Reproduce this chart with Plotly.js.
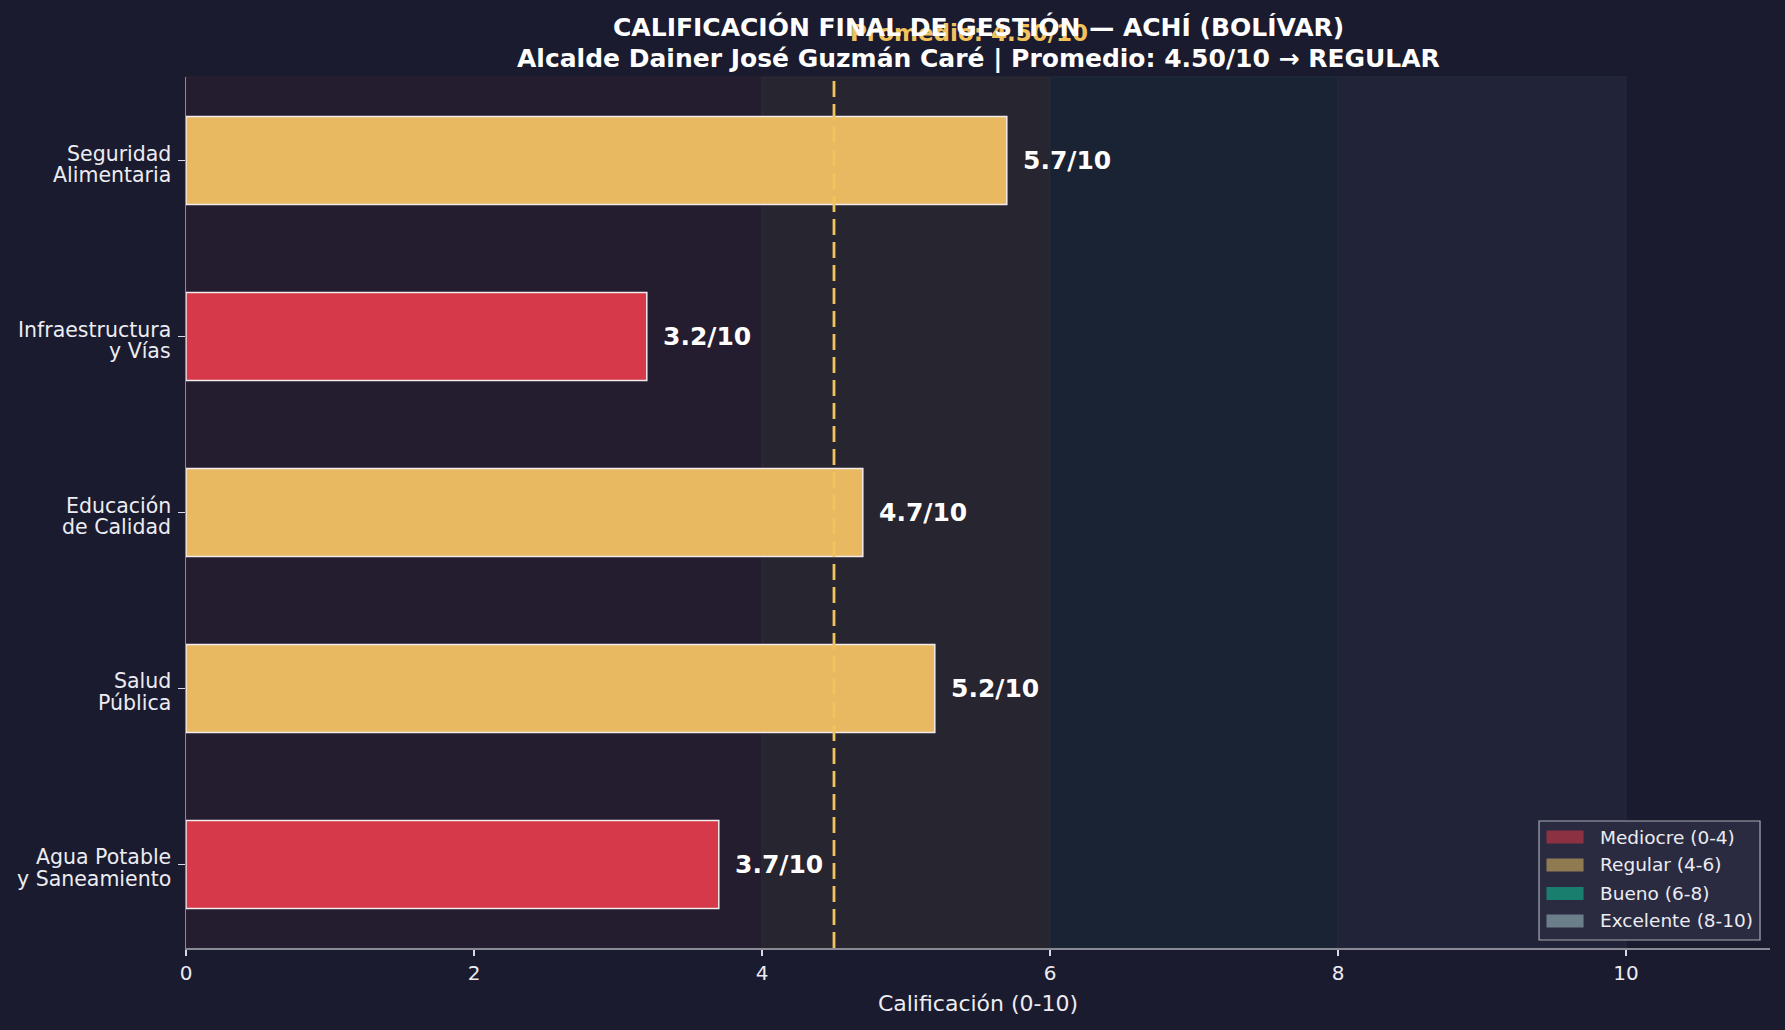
<!DOCTYPE html>
<html>
<head>
<meta charset="utf-8">
<script src="https://cdn.plot.ly/plotly-3.0.1.min.js"></script>
<style>html,body{margin:0;padding:0;background:#1a1b2e;}#chart{width:1785px;height:1030px;}</style>
</head>
<body>
<div id="chart"></div>
<script>
// ---- data ----
const categories = ["Seguridad<br>Alimentaria", "Infraestructura<br>y Vías", "Educación<br>de Calidad", "Salud<br>Pública", "Agua Potable<br>y Saneamiento"];
const scores = [5.7, 3.2, 4.7, 5.2, 3.7];
const average = 4.50;
const bandStarts = [0, 4, 6, 8];
const bandEnds = [4, 6, 8, 10];
const bandNames = ["Mediocre (0-4)", "Regular (4-6)", "Bueno (6-8)", "Excelente (8-10)"];
const bandFill = ["#241c2f", "#262530", "#192334", "#212438"];
const bandEdge = ["#2c2431", "#2d2c33", "#1e2e38", "#262a3e"];
const legendSwatch = ["#8b3142", "#8f7a52", "#1a7e6e", "#6b7f8b"];
const xTicks = [0, 2, 4, 6, 8, 10];
const titleLines = ["CALIFICACIÓN FINAL DE GESTIÓN — ACHÍ (BOLÍVAR)", "Alcalde Dainer José Guzmán Caré | Promedio: 4.50/10 → REGULAR"];

const FONT = "DejaVu Sans, sans-serif";
const barColors = scores.map(v => v < 4 ? "#d6394a" : "#e8b961");

const traces = [{
  type: "bar",
  orientation: "h",
  y: categories,
  x: scores,
  width: 0.5,
  marker: {color: barColors, opacity: 1, line: {color: "#f3ecec", width: 1.5}},
  hoverinfo: "x+y",
  showlegend: false
}];

const shapes = [];
bandStarts.forEach((s, i) => {
  shapes.push({type: "rect", layer: "below", xref: "x", yref: "paper", x0: s, x1: bandEnds[i], y0: 0, y1: 1,
    fillcolor: bandFill[i], line: {color: bandEdge[i], width: 1}});
});
shapes.push({type: "line", layer: "above", xref: "x", yref: "paper", x0: average, x1: average, y0: 0, y1: 1,
  line: {color: "#f2c35c", width: 2.8, dash: "16px,7px"}});

const annotations = scores.map((v, i) => ({
  x: v + 0.1, y: categories[i], xref: "x", yref: "y", xanchor: "left", yanchor: "middle",
  text: "<b>" + v.toFixed(1) + "/10</b>", showarrow: false,
  font: {family: FONT, size: 25, color: "#ffffff"}
}));
// category labels (two lines each, tighter spacing than Plotly's default)
categories.forEach(c => {
  const parts = c.split("<br>");
  annotations.push({x: 0, y: c, xref: "paper", yref: "y", xanchor: "right", yanchor: "middle",
    xshift: -13, yshift: 7, text: parts[0], showarrow: false,
    font: {family: FONT, size: 20.5, color: "#ececf2"}});
  annotations.push({x: 0, y: c, xref: "paper", yref: "y", xanchor: "right", yanchor: "middle",
    xshift: -13, yshift: -14.5, text: parts[1], showarrow: false,
    font: {family: FONT, size: 20.5, color: "#ececf2"}});
});
// promedio label
annotations.push({
  x: average + 0.1, y: 1.0505, xref: "x", yref: "paper", xanchor: "left", yanchor: "middle",
  text: "<b>Promedio: " + average.toFixed(2) + "/10</b>", showarrow: false,
  font: {family: FONT, size: 23, color: "#f2c35c"}
});
// title lines
annotations.push({x: 0.5, y: 1.0574, xref: "paper", yref: "paper", xanchor: "center", yanchor: "middle",
  text: "<b>" + titleLines[0] + "</b>", showarrow: false, font: {family: FONT, size: 25, color: "#ffffff"}});
annotations.push({x: 0.5, y: 1.0218, xref: "paper", yref: "paper", xanchor: "center", yanchor: "middle",
  text: "<b>" + titleLines[1] + "</b>", showarrow: false, font: {family: FONT, size: 25, color: "#ffffff"}});

// manual legend (paper coords)
const L = {x0: 0.8542, x1: 0.9937, y0: 0.0092, y1: 0.1458};
shapes.push({type: "rect", layer: "above", xref: "paper", yref: "paper", x0: L.x0, x1: L.x1, y0: L.y0, y1: L.y1,
  fillcolor: "#2a2b40", line: {color: "#a9aab3", width: 1.2}});
const rowY = [0.1274, 0.0953, 0.0625, 0.0310];
bandNames.forEach((n, i) => {
  shapes.push({type: "rect", layer: "above", xref: "paper", yref: "paper",
    x0: 0.8589, x1: 0.8823, y0: rowY[i] - 0.0075, y1: rowY[i] + 0.0075,
    fillcolor: legendSwatch[i], line: {width: 0}});
  annotations.push({x: 0.8914, y: rowY[i], xref: "paper", yref: "paper", xanchor: "left", yanchor: "middle",
    text: n, showarrow: false, font: {family: FONT, size: 18.5, color: "#ececf2"}});
});

const layout = {
  width: 1785, height: 1030,
  paper_bgcolor: "#1a1b2e", plot_bgcolor: "#1a1b2e",
  margin: {l: 186, r: 15, t: 77, b: 82},
  font: {family: FONT, color: "#ececf2"},
  xaxis: {
    range: [0, 11], tickvals: xTicks, ticktext: xTicks.map(String),
    showgrid: false, zeroline: false, showline: true, linecolor: "#8a8a96", linewidth: 1.5,
    ticks: "outside", ticklen: 6, tickcolor: "#d8d8e0", tickwidth: 1.2,
    tickfont: {family: FONT, size: 20, color: "#ececf2"},
    title: {text: "Calificación (0-10)", font: {family: FONT, size: 22, color: "#ececf2"}, standoff: 12}
  },
  yaxis: {
    type: "category", categoryorder: "array", categoryarray: categories,
    range: [4.475, -0.475],
    showgrid: false, zeroline: false, showline: true, linecolor: "#8a8a96", linewidth: 1.5,
    ticks: "outside", ticklen: 7, tickcolor: "#d8d8e0", tickwidth: 1.2,
    showticklabels: false
  },
  shapes: shapes,
  annotations: annotations,
  showlegend: false,
  bargap: 0.5
};

Plotly.newPlot("chart", traces, layout, {displayModeBar: false, staticPlot: true});
</script>
</body>
</html>
